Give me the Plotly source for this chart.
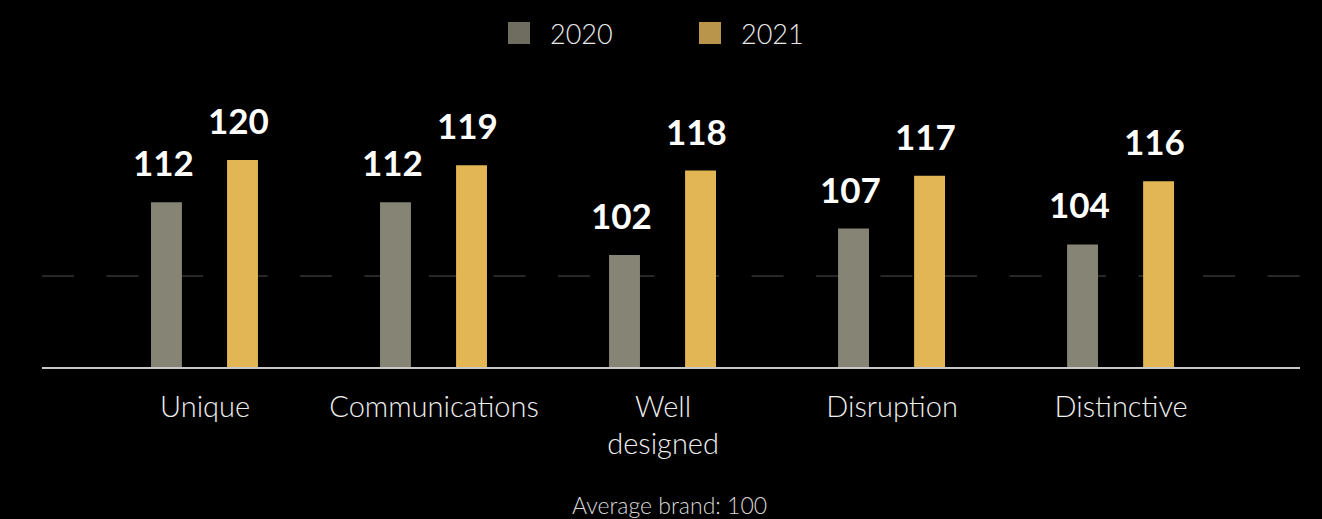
import plotly.graph_objects as go

categories = ["Unique", "Communications", "Well<br>designed", "Disruption", "Distinctive"]
values_2020 = [112, 112, 102, 107, 104]
values_2021 = [120, 119, 118, 117, 116]
series_names = ["2020", "2021"]
average_line = 98
caption = "Average brand: 100"

C2020 = "#868474"
C2021 = "#E2B654"
L2020 = "#6F6D60"
L2021 = "#B8954B"
FONT = "Lato"

W, H = 1322, 519
ML, MR, MT, MB = 42, 22, 80, 152
PW = W - ML - MR
PH = H - MT - MB

def px_x(p):
    return (p - ML) / PW

def px_y(p):
    return (H - MB - p) / PH

fig = go.Figure()
fig.add_trace(go.Bar(x=categories, y=values_2020, name=series_names[0], marker_color=C2020,
                     marker_line_width=0,
                     width=0.135, offset=-0.236, showlegend=False, hoverinfo="skip"))
fig.add_trace(go.Bar(x=categories, y=values_2021, name=series_names[1], marker_color=C2021,
                     marker_line_width=0,
                     width=0.135, offset=0.096, showlegend=False, hoverinfo="skip"))

annotations = []
for cat, v in zip(categories, values_2020):
    annotations.append(dict(x=cat, y=v, xref="x", yref="y", text=f"<b>{v}</b>", showarrow=False,
                            xshift=-42, yshift=17, yanchor="bottom",
                            font=dict(family=FONT, size=35, color="white")))
for cat, v in zip(categories, values_2021):
    annotations.append(dict(x=cat, y=v, xref="x", yref="y", text=f"<b>{v}</b>", showarrow=False,
                            xshift=33, yshift=17, yanchor="bottom",
                            font=dict(family=FONT, size=35, color="white")))

# manual legend
shapes = [
    dict(type="line", xref="paper", yref="y", x0=0, x1=1, y0=average_line, y1=average_line,
         line=dict(color="#505050", width=1, dash="32px,32.5px"), layer="below"),
]
legend_items = [(508, L2020, series_names[0]), (699, L2021, series_names[1])]
for x0, col, name in legend_items:
    shapes.append(dict(type="rect", xref="paper", yref="paper",
                       x0=px_x(x0), x1=px_x(x0 + 22), y0=px_y(44), y1=px_y(22),
                       fillcolor=col, line=dict(width=0)))
    annotations.append(dict(x=px_x(x0 + 40), y=px_y(33), xref="paper", yref="paper",
                            text=name, showarrow=False, xanchor="left", yanchor="middle",
                            font=dict(family=FONT, size=27, color="#e8e8e8", weight=300)))

annotations.append(dict(x=px_x(669), y=px_y(505), xref="paper", yref="paper", text=caption,
                        showarrow=False, xanchor="center", yanchor="middle",
                        font=dict(family=FONT, size=23, color="#d8d8d8", weight=300)))

ymin = 80.75
ymax = ymin + PH / 5.273

fig.update_layout(
    width=W, height=H,
    margin=dict(l=ML, r=MR, t=MT, b=MB, pad=0),
    paper_bgcolor="black", plot_bgcolor="black",
    barmode="overlay",
    showlegend=False,
    shapes=shapes,
    annotations=annotations,
    xaxis=dict(type="category", range=[-0.712, 4.781], showgrid=False, zeroline=False,
               showline=True, linecolor="#c8c8c8", linewidth=1.5,
               ticks="", ticklabelstandoff=13,
               tickfont=dict(family=FONT, size=29, color="#eeeeee", weight=300)),
    yaxis=dict(range=[ymin, ymax], visible=False, showgrid=False, zeroline=False),
)

fig.write_html("out.html", config={"displayModeBar": False},
               post_script="document.body.style.margin='0';document.body.style.background='black';")
